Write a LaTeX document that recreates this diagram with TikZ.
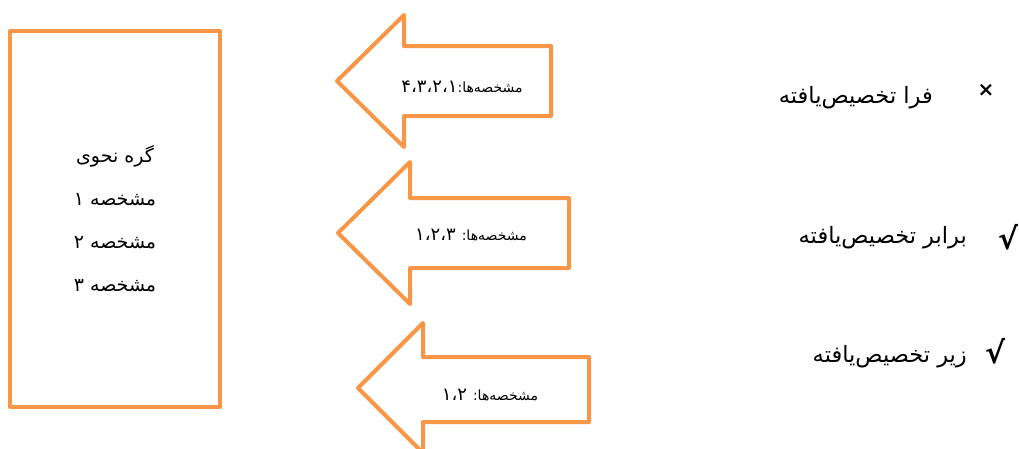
\documentclass[tikz,border=0pt]{standalone}
\usepackage{fontspec}
\usepackage{xcolor}
\usepackage{tikz}
\newfontfamily\farsifont[Script=Arabic]{DejaVu Sans}
\newfontfamily\markfont{DejaVu Sans}
\TeXXeTstate=1
\definecolor{specorange}{RGB}{247,150,70}
\newcommand{\featnums}[1]{{\fontsize{18}{18}\selectfont #1}}

\begin{document}
\begin{tikzpicture}[x=1pt,y=-1pt,
  specline/.style={draw=specorange, line width=4pt, line join=round},
  boxtext/.style={font=\farsifont\fontsize{19}{43}\selectfont, align=center, inner sep=0pt},
  arrowtext/.style={font=\farsifont\fontsize{14}{16}\selectfont, inner sep=0pt},
  kindtext/.style={font=\farsifont\fontsize{22.5}{26}\selectfont, inner sep=0pt},
  tick/.style={font=\markfont\bfseries\fontsize{30}{32}\selectfont, inner sep=0pt}]
\clip (0,0) rectangle (1019,448);
% syntactic node with its features
\node[specline, minimum width=210pt, minimum height=376pt] (node) at (115,219) {};
\node[boxtext] (feats) at (node.center) {\beginR گره نحوی\endR\\
  \beginR مشخصه ۱\endR\\ \beginR مشخصه ۲\endR\\ \beginR مشخصه ۳\endR};

% arrows
\draw[specline] (337,81) -- (404,15) -- (404,46) -- (551,46) -- (551,116)
  -- (404,116) -- (404,147) -- cycle;
\node[arrowtext] (over) at (462,87) {\beginR مشخصه‌ها:\featnums{۴،۳،۲،۱}\endR};

\draw[specline] (338,233) -- (410,162) -- (410,198) -- (569,198) -- (569,268)
  -- (410,268) -- (410,304) -- cycle;
\node[arrowtext] (equal) at (471,235) {\beginR مشخصه‌ها: \featnums{۱،۲،۳}\endR};

\draw[specline] (358,388) -- (423,323) -- (423,357) -- (589,357) -- (589,422)
  -- (423,422) -- (423,453) -- cycle;
\node[arrowtext] (under) at (490,395) {\beginR مشخصه‌ها: \featnums{۱،۲}\endR};

% specification kinds
\node[kindtext, anchor=east] (overkind) at (933,98) {\beginR فرا تخصیص‌یافته\endR};
\node[tick, font=\markfont\bfseries\fontsize{20}{22}\selectfont] (overmark) at (986,90) {×};
\node[kindtext, anchor=east] (equalkind) at (967,238) {\beginR برابر تخصیص‌یافته\endR};
\node[tick] (equalmark) at (1008,237) {√};
\node[kindtext, anchor=east] (underkind) at (967,357) {\beginR زیر تخصیص‌یافته\endR};
\node[tick] (undermark) at (995,351) {√};
\end{tikzpicture}
\end{document}
